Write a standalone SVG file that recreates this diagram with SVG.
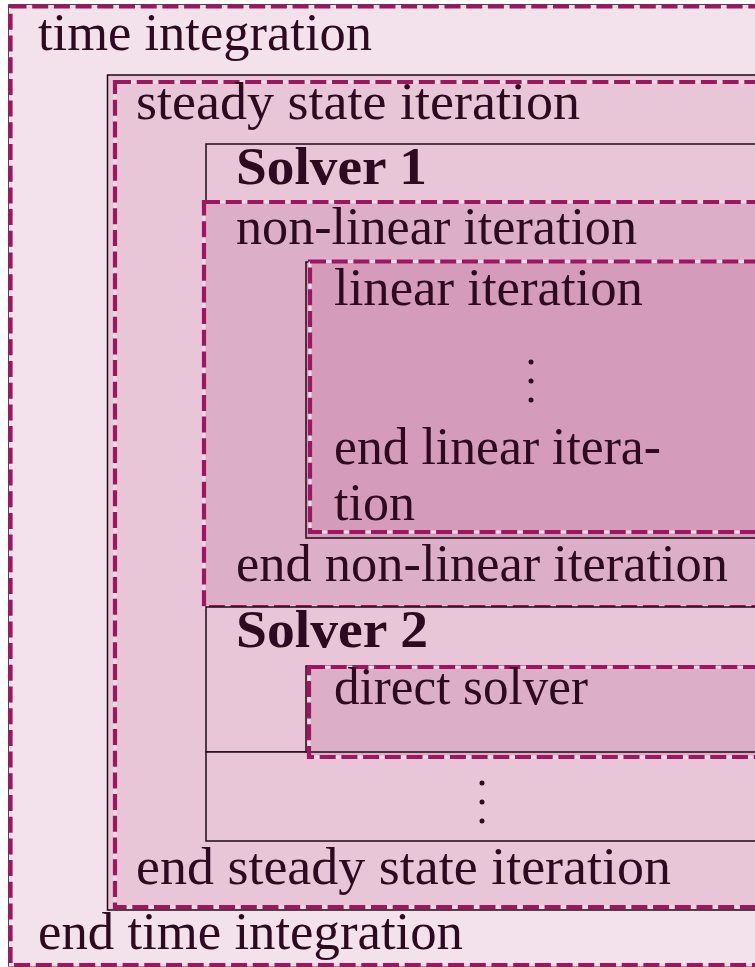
<svg xmlns="http://www.w3.org/2000/svg" width="755" height="967" viewBox="0 0 755 967">
<style>
.blk{stroke:#1e0a14;stroke-width:1.5}
.und{fill:none;stroke:#efdbe6;stroke-width:3}
.dsh{fill:none;stroke:#9c1660;stroke-width:4.2;stroke-dasharray:16 5.7}
.f0{fill:#f3e2ec}
.f1{fill:#e8c6d8}
.f2{fill:#ddaec8}
.f3{fill:#d49bba}
text{font-family:"Liberation Serif","Times New Roman",serif;font-size:52px;fill:#2d0a1f}
.b{font-weight:bold}
.dot{fill:#2d0a1f}
</style>
<rect width="755" height="967" fill="#ffffff"/>
<g id="time-integration">
<rect class="f0 blk" x="9" y="5" width="800" height="961"/>
<rect class="f0 und" x="10.5" y="6.5" width="800" height="958.5"/>
<rect class="dsh" x="10.5" y="6.5" width="800" height="958.5"/>
<text x="38" y="49.5" textLength="334" lengthAdjust="spacingAndGlyphs">time integration</text>
<text x="38" y="948.5" textLength="425" lengthAdjust="spacingAndGlyphs">end time integration</text>
</g>
<g id="steady-state">
<rect class="f1 blk" x="107.5" y="75" width="700" height="835"/>
<rect class="f1 und" x="115" y="82" width="700" height="825"/>
<rect class="dsh" x="115" y="82" width="700" height="825"/>
<text x="136" y="118.5" textLength="444" lengthAdjust="spacingAndGlyphs">steady state iteration</text>
<text x="136" y="883.5" textLength="535" lengthAdjust="spacingAndGlyphs">end steady state iteration</text>
</g>
<g id="solver1">
<rect class="f1 blk" x="206" y="144" width="600" height="463"/>
<text class="b" x="236" y="183.5" textLength="191" lengthAdjust="spacingAndGlyphs">Solver 1</text>
</g>
<g id="nonlinear">
<rect class="f2 und" x="204" y="202" width="600" height="405"/>
<rect class="dsh" x="204" y="202" width="600" height="405"/>
<text x="236" y="243.5" textLength="401" lengthAdjust="spacingAndGlyphs">non-linear iteration</text>
<text x="236" y="581" textLength="492" lengthAdjust="spacingAndGlyphs">end non-linear iteration</text>
</g>
<g id="linear">
<rect class="f3 blk" x="306" y="262" width="500" height="276"/>
<rect class="f3 und" x="310" y="261.5" width="500" height="270.5"/>
<rect class="dsh" x="310" y="261.5" width="500" height="270.5"/>
<text x="334" y="305" textLength="309" lengthAdjust="spacingAndGlyphs">linear iteration</text>
<circle class="dot" cx="531" cy="362" r="2.5"/>
<circle class="dot" cx="531" cy="381" r="2.5"/>
<circle class="dot" cx="531" cy="400" r="2.5"/>
<text x="334" y="463.5" textLength="327" lengthAdjust="spacingAndGlyphs">end linear itera-</text>
<text x="334" y="520" textLength="81" lengthAdjust="spacingAndGlyphs">tion</text>
</g>
<g id="solver2">
<rect class="f1 blk" x="206" y="607" width="600" height="145"/>
<text class="b" x="236" y="647" textLength="192" lengthAdjust="spacingAndGlyphs">Solver 2</text>
</g>
<g id="more-solvers">
<rect class="f1 blk" x="206" y="752" width="600" height="89"/>
<circle class="dot" cx="482" cy="783" r="2.5"/>
<circle class="dot" cx="482" cy="802" r="2.5"/>
<circle class="dot" cx="482" cy="821" r="2.5"/>
</g>
<g id="direct-solver">
<rect class="f2 blk" x="306" y="666" width="500" height="86"/>
<rect class="f2 und" x="309" y="667" width="500" height="90"/>
<line class="blk" x1="306" y1="752" x2="800" y2="752"/>
<rect class="dsh" x="309" y="667" width="500" height="90"/>
<text x="334" y="703.5" textLength="254" lengthAdjust="spacingAndGlyphs">direct solver</text>
</g>
<g id="connectors"></g>
</svg>
